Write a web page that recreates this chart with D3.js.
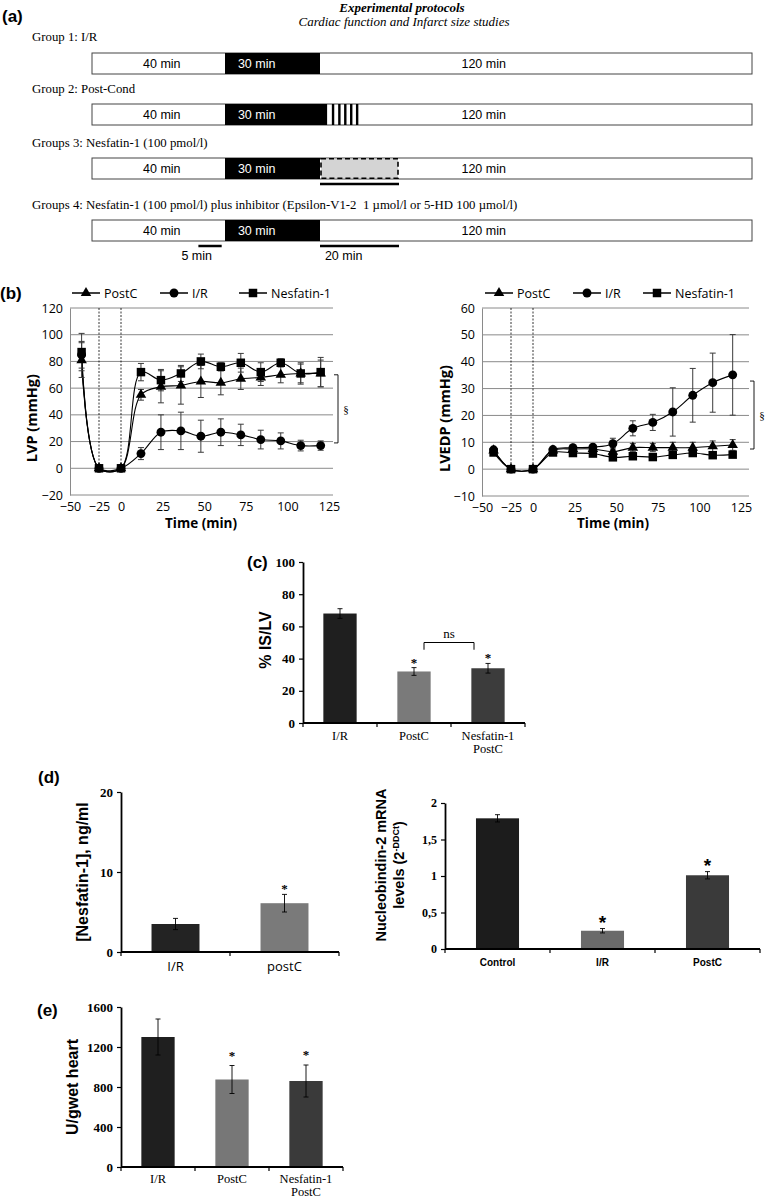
<!DOCTYPE html>
<html><head><meta charset="utf-8">
<script src="https://cdn.jsdelivr.net/npm/d3@7"></script>
<style>body{margin:0;background:#fff}svg{display:block}text{white-space:pre}</style>
</head><body>
<svg id="fig" width="768" height="1197"></svg>
<script>
// ================= DATA =================
// (a) protocol
const protocolGroups = ["Group 1: I/R", "Group 2: Post-Cond", "Groups 3: Nesfatin-1 (100 pmol/l)",
  "Groups 4: Nesfatin-1 (100 pmol/l) plus inhibitor (Epsilon-V1-2  1 µmol/l or 5-HD 100 µmol/l)"];
const phaseBreaks = [0, 40, 70, 90, 190];           // minutes
const phaseLabels = ["40 min", "30 min", "120 min"];
const phaseLabelTimes = [21, 50, 114];
const postCondStripes = [73.0, 74.6, 76.1, 77.6, 79.1];
// (b) haemodynamics
const timePoints = [-40, -25, 0, 12, 24, 36, 48, 60, 72, 84, 96, 108, 120];
const timeTicks = [-50, -25, 0, 25, 50, 75, 100, 125];
const lvpTicks = [-20, 0, 20, 40, 60, 80, 100, 120];
const lvpPostC = [81, 0, 0, 55, 61, 62, 65, 64, 67, 68, 70, 71, 71];
const lvpPostCErr = [13, 0, 0, 4, 12, 14, 12, 9, 8, 6, 6, 7, 10];
const lvpIR = [85, 0, 0, 11, 27, 28, 24, 27, 25, 21.5, 20.5, 17, 17];
const lvpIRErr = [10, 0, 0, 4.5, 13, 14, 12, 10, 8, 7, 6, 4, 3.5];
const lvpNesf = [87, 0, 0, 72, 66, 71, 80, 76, 79, 72, 79, 71, 72];
const lvpNesfErr = [14, 0, 0, 6.5, 8, 6, 5.5, 3, 7, 7, 3, 8, 11];
const lvedpTicks = [-10, 0, 10, 20, 30, 40, 50, 60];
const lvedpPostC = [7, 0, 0, 7, 7.5, 7.5, 6.5, 8, 8, 8, 8, 8.5, 9];
const lvedpPostCErr = [0.6, 0, 0, 0.6, 0.8, 1, 1.5, 1.5, 1.5, 2, 2, 2, 2];
const lvedpIR = [7.2, 0, 0, 7.3, 8, 8.2, 9.5, 15.2, 17.4, 21.3, 27.5, 32.2, 35.1];
const lvedpIRErr = [0.6, 0, 0, 0.6, 0.8, 1, 2, 2.8, 3, 9, 10, 11, 15];
const lvedpNesf = [6.2, 0, 0, 6.2, 6, 5.8, 4.4, 4.8, 4.5, 5.3, 6, 5.2, 5.4];
const lvedpNesfErr = [0.6, 0, 0, 0.5, 0.6, 0.8, 0.8, 0.8, 0.8, 0.8, 0.8, 0.8, 0.8];
const seriesNames = ["PostC", "I/R", "Nesfatin-1"];
// (c) infarct size
const isCats = [["I/R"], ["PostC"], ["Nesfatin-1", "PostC"]];
const isVals = [68, 32, 34];
const isErr = [3, 2.4, 3];
const isTicks = [0, 20, 40, 60, 80, 100];
// (d) nesfatin-1 levels
const nesCats = [["I/R"], ["postC"]];
const nesVals = [3.5, 6.1];
const nesErr = [0.7, 1.1];
const nesTicks = [0, 10, 20];
// (d) nucleobindin-2 mRNA
const nucCats = [["Control"], ["I/R"], ["PostC"]];
const nucVals = [1.79, 0.25, 1.01];
const nucErr = [0.05, 0.03, 0.05];
const nucTicks = [0, 0.5, 1, 1.5, 2];
// (e) LDH
const ldhCats = [["I/R"], ["PostC"], ["Nesfatin-1", "PostC"]];
const ldhVals = [1300, 875, 860];
const ldhErr = [180, 140, 160];
const ldhTicks = [0, 400, 800, 1200, 1600];

// ================= DRAW =================
const svg = d3.select("#fig");
const SERIF = "'Liberation Serif','Times New Roman',serif";
const SANS = "'Liberation Sans',Arial,sans-serif";
const CAL = "'Open Sans','Noto Sans',sans-serif";

function txt(x, y, s, o = {}) {
  const t = svg.append("text").attr("x", x).attr("y", y).text(s)
    .attr("font-family", o.ff || SANS).attr("font-size", o.fs || 12)
    .attr("font-weight", o.fw || "normal").attr("font-style", o.st || "normal")
    .attr("text-anchor", o.anchor || "start").attr("fill", o.fill || "#000");
  if (o.rot) t.attr("transform", `rotate(-90,${x},${y})`);
  return t;
}

// ---------- (a) ----------
txt(402, 12, "Experimental protocols", {ff: SERIF, fs: 13, fw: "bold", st: "italic", anchor: "middle"});
txt(404, 26, "Cardiac function and Infarct size studies", {ff: SERIF, fs: 13, st: "italic", anchor: "middle"});
txt(2, 22, "(a)", {fs: 17, fw: "bold"});

const px = d3.scaleLinear().domain(phaseBreaks).range([92, 225, 320, 399, 752]);
const barTops = [53, 104, 158, 220], labelBase = [41, 93, 147, 209], BH = 21;
protocolGroups.forEach((g, i) => {
  txt(32, labelBase[i], g, {ff: SERIF, fs: 12.8});
  const y0 = barTops[i];
  svg.append("rect").attr("x", px(0)).attr("y", y0).attr("width", px(190) - px(0)).attr("height", BH)
    .attr("fill", "#fff").attr("stroke", "#444").attr("stroke-width", 1);
  const blackEnd = i === 1 ? 71.8 : 70;
  svg.append("rect").attr("x", px(40)).attr("y", y0).attr("width", px(blackEnd) - px(40)).attr("height", BH).attr("fill", "#000");
  if (i === 1) {
    svg.selectAll(null).data(postCondStripes).join("rect")
      .attr("x", d => px(d)).attr("y", y0).attr("width", 2.4).attr("height", BH).attr("fill", "#000");
  }
  if (i === 2) {
    svg.append("rect").attr("x", px(70) + 1).attr("y", y0 + 0.8).attr("width", px(90) - px(70) - 2).attr("height", BH - 1.6)
      .attr("fill", "#d4d4d4").attr("stroke", "#000").attr("stroke-width", 1.6).attr("stroke-dasharray", "5,3");
    svg.append("line").attr("x1", px(70)).attr("x2", px(90)).attr("y1", y0 + BH + 5).attr("y2", y0 + BH + 5)
      .attr("stroke", "#000").attr("stroke-width", 2.5);
  }
  if (i === 3) {
    [[32, 39], [70, 90]].forEach(s => svg.append("line").attr("x1", px(s[0])).attr("x2", px(s[1]))
      .attr("y1", y0 + BH + 5).attr("y2", y0 + BH + 5).attr("stroke", "#000").attr("stroke-width", 2.5));
    txt(px(31.5), y0 + BH + 19, "5 min", {fs: 12.5, anchor: "middle"});
    txt(px(76), y0 + BH + 19, "20 min", {fs: 12.5, anchor: "middle"});
  }
  phaseLabels.forEach((l, k) => txt(px(phaseLabelTimes[k]), y0 + BH / 2 + 4.5, l,
    {fs: 12.5, anchor: "middle", fill: k === 1 ? "#fff" : "#000"}));
});

// ---------- (b) ----------
txt(0, 299, "(b)", {fs: 17, fw: "bold"});
function lineChart(c) {
  const g = svg.append("g");
  const x = d3.scaleLinear().domain([-50, -25, 0, 125]).range([c.x0, c.x0 + 29, c.x0 + 51, c.x0 + 259]);
  const y = d3.scaleLinear().domain([c.ticks[0], c.ticks[c.ticks.length - 1]]).range([c.yb, c.yt]);
  g.selectAll(".grid").data(c.ticks).join("line")
    .attr("x1", c.x0).attr("x2", c.x0 + c.w).attr("y1", d => y(d)).attr("y2", d => y(d))
    .attr("stroke", "#8a8a8a").attr("stroke-width", 1);
  const ya = g.append("g").attr("transform", `translate(${c.x0},0)`)
    .call(d3.axisLeft(y).tickValues(c.ticks).tickSize(0).tickPadding(7).tickSizeOuter(0));
  ya.select(".domain").attr("stroke", "#8a8a8a");
  ya.selectAll("text").attr("font-family", CAL).attr("font-size", 12.5).attr("fill", "#000");
  const xa = g.append("g").attr("transform", `translate(0,${c.yb})`)
    .call(d3.axisBottom(x).tickValues(timeTicks).tickSize(0).tickPadding(7));
  xa.select(".domain").remove();
  xa.selectAll("text").attr("font-family", CAL).attr("font-size", 12.5).attr("fill", "#000");
  g.selectAll(".dash").data([-25, 0]).join("line")
    .attr("x1", d => x(d)).attr("x2", d => x(d)).attr("y1", c.yt).attr("y2", y(0))
    .attr("stroke", "#000").attr("stroke-width", 0.8).attr("stroke-dasharray", "2,1.5");
  const syms = [d3.symbolTriangle, d3.symbolCircle, d3.symbolSquare];
  const sizes = [48, 62, 72];
  const line = d3.line().x((d, i) => x(timePoints[i])).y(d => y(d)).curve(d3.curveCatmullRom.alpha(0.5));
  c.series.forEach(s => {
    g.append("path").attr("d", line(s.v)).attr("fill", "none").attr("stroke", "#000").attr("stroke-width", 1.1);
  });
  c.series.forEach(s => {
    const eg = g.append("g").attr("stroke", "#3a3a3a").attr("stroke-width", 1);
    s.v.forEach((v, i) => {
      const e = s.e[i]; if (!e) return;
      const xx = x(timePoints[i]);
      eg.append("line").attr("x1", xx).attr("x2", xx).attr("y1", y(v - e)).attr("y2", y(v + e));
      [v - e, v + e].forEach(w => eg.append("line").attr("x1", xx - 3).attr("x2", xx + 3).attr("y1", y(w)).attr("y2", y(w)));
    });
  });
  c.series.forEach((s, si) => {
    g.selectAll(null).data(s.v).join("path")
      .attr("d", d3.symbol().type(syms[si]).size(sizes[si]))
      .attr("transform", (d, i) => `translate(${x(timePoints[i])},${y(d)})`).attr("fill", "#000");
  });
  seriesNames.forEach((n, si) => {
    const lx = c.legend[si], ly = 293;
    g.append("line").attr("x1", lx).attr("x2", lx + 28).attr("y1", ly).attr("y2", ly).attr("stroke", "#000").attr("stroke-width", 1.5);
    g.append("path").attr("d", d3.symbol().type(syms[si]).size(sizes[si])()).attr("transform", `translate(${lx + 14},${ly})`);
    txt(lx + 32, ly + 4.5, n, {ff: CAL, fs: 12.5});
  });
  const bx = c.x0 + c.w + 5;
  g.append("path").attr("d", `M${bx - 4},${y(c.br[0])}H${bx}V${y(c.br[1])}H${bx - 4}`)
    .attr("fill", "none").attr("stroke", "#000").attr("stroke-width", 0.9);
  txt(bx + 8, (y(c.br[0]) + y(c.br[1])) / 2 + 4, "§", {ff: SERIF, fs: 11, anchor: "middle"});
  txt(c.x0 + 131, 528, "Time (min)", {ff: CAL, fs: 13.5, fw: "bold", anchor: "middle"});
  txt(c.ylx, (c.yt + y(0)) / 2 + 30, c.ylab, {ff: CAL, fs: 14.5, fw: "bold", anchor: "middle", rot: true});
}
lineChart({x0: 70, w: 263, yt: 308, yb: 495, ticks: lvpTicks, legend: [72, 160, 239], br: [70, 19],
  ylab: "LVP (mmHg)", ylx: 37,
  series: [{v: lvpPostC, e: lvpPostCErr}, {v: lvpIR, e: lvpIRErr}, {v: lvpNesf, e: lvpNesfErr}]});
lineChart({x0: 482, w: 267, yt: 308, yb: 496, ticks: lvedpTicks, legend: [485, 573, 643], br: [32.8, 7.5],
  ylab: "LVEDP (mmHg)", ylx: 450,
  series: [{v: lvedpPostC, e: lvedpPostCErr}, {v: lvedpIR, e: lvedpIRErr}, {v: lvedpNesf, e: lvedpNesfErr}]});

// ---------- bar charts ----------
function barChart(c) {
  const g = svg.append("g");
  const x = d3.scaleBand().domain(c.cats.map((d, i) => i)).range([c.x0, c.x1]);
  const y = d3.scaleLinear().domain([c.ticks[0], c.ticks[c.ticks.length - 1]]).range([c.yb, c.yt]);
  const bw = x.bandwidth() * c.bw;
  g.selectAll("rect").data(c.vals).join("rect")
    .attr("x", (d, i) => x(i) + (x.bandwidth() - bw) / 2).attr("width", bw)
    .attr("y", d => y(d)).attr("height", d => y(0) - y(d)).attr("fill", (d, i) => c.colors[i]);
  const eg = g.append("g").attr("stroke", "#000").attr("stroke-width", 0.9);
  c.vals.forEach((v, i) => {
    const xx = x(i) + x.bandwidth() / 2, e = c.err[i];
    eg.append("line").attr("x1", xx).attr("x2", xx).attr("y1", y(v - e)).attr("y2", y(v + e));
    [v - e, v + e].forEach(w => eg.append("line").attr("x1", xx - 2.5).attr("x2", xx + 2.5).attr("y1", y(w)).attr("y2", y(w)));
    if (c.stars[i]) txt(xx, y(v + e) - c.starOff, "*", {ff: c.starFont || SERIF, fs: c.starSize || 13, fw: "bold", anchor: "middle"});
  });
  const ya = g.append("g").attr("transform", `translate(${c.x0},0)`)
    .call(d3.axisLeft(y).tickValues(c.ticks).tickSize(4).tickPadding(4).tickSizeOuter(0).tickFormat(c.fmt || d3.format("d")));
  ya.select(".domain").attr("stroke", "#000").attr("stroke-width", 1.8);
  ya.selectAll("line").attr("stroke", "#000").attr("stroke-width", 1.2);
  ya.selectAll("text").attr("font-family", SERIF).attr("font-weight", "bold").attr("font-size", c.tfs || 13).attr("fill", "#000");
  const bounds = c.cats.map((d, i) => x(i)).concat([c.x1]);
  g.append("line").attr("x1", c.x0).attr("x2", c.x1).attr("y1", y(0)).attr("y2", y(0)).attr("stroke", "#000").attr("stroke-width", 1.8);
  g.selectAll(".bt").data(bounds).join("line").attr("x1", d => d).attr("x2", d => d)
    .attr("y1", y(0)).attr("y2", y(0) + 4).attr("stroke", "#000").attr("stroke-width", 1.2);
  c.cats.forEach((lines, i) => lines.forEach((l, k) =>
    txt(x(i) + x.bandwidth() / 2, y(0) + c.labOff + k * 12.5, l, {ff: c.labFont, fs: c.labSize, fw: c.labW || "normal", anchor: "middle"})));
  return {x, y};
}

// (c)
txt(247, 568, "(c)", {fs: 17, fw: "bold"});
const cc = barChart({x0: 303, x1: 525, yt: 562, yb: 723, ticks: isTicks, cats: isCats, vals: isVals, err: isErr,
  colors: ["#1f1f1f", "#7a7a7a", "#3c3c3c"], bw: 0.45, stars: [false, true, true], starOff: 1,
  labFont: SERIF, labSize: 12.5, labOff: 17});
{
  const y = cc.y, x = cc.x, b = x.bandwidth();
  const xl = x(1) + b / 2 + 10, xr = x(2) + b / 2 - 14;
  svg.append("path").attr("d", `M${xl},${y(45.5)}V${y(50)}H${xr}V${y(45.5)}`).attr("fill", "none").attr("stroke", "#000").attr("stroke-width", 1);
  txt((xl + xr) / 2, y(50) - 5, "ns", {ff: SERIF, fs: 13, anchor: "middle"});
}
txt(271, 640, "% IS/LV", {fs: 16, fw: "bold", anchor: "middle", rot: true});

// (d)
txt(38, 783, "(d)", {fs: 17, fw: "bold"});
barChart({x0: 121, x1: 339, yt: 792, yb: 952, ticks: nesTicks, cats: nesCats, vals: nesVals, err: nesErr,
  colors: ["#232323", "#7a7a7a"], bw: 0.44, stars: [false, true], starOff: 1,
  labFont: CAL, labSize: 13, labOff: 19});
txt(88, 872, "[Nesfatin-1], ng/ml", {fs: 16, fw: "bold", anchor: "middle", rot: true});

barChart({x0: 445, x1: 760, yt: 803, yb: 949, ticks: nucTicks, cats: nucCats, vals: nucVals, err: nucErr,
  colors: ["#1c1c1c", "#6a6a6a", "#3a3a3a"], bw: 0.41, stars: [false, true, true], starOff: 0,
  starFont: SANS, starSize: 19, labFont: SANS, labSize: 10, labW: "bold", labOff: 17, tfs: 12,
  fmt: d => String(d).replace(".", ",")});
{
  txt(386, 865, "Nucleobindin-2 mRNA", {fs: 14.5, fw: "bold", anchor: "middle", rot: true});
  const t2 = svg.append("text").attr("x", 404).attr("y", 865).attr("transform", "rotate(-90,404,865)")
    .attr("font-family", SANS).attr("font-size", 14.5).attr("font-weight", "bold").attr("text-anchor", "middle");
  t2.append("tspan").text("levels (2");
  t2.append("tspan").text("-DDCt").attr("font-size", 9).attr("dy", -5);
  t2.append("tspan").text(")").attr("dy", 5);
}

// (e)
txt(37, 1016, "(e)", {fs: 17, fw: "bold"});
barChart({x0: 121, x1: 343, yt: 1007, yb: 1167, ticks: ldhTicks, cats: ldhCats, vals: ldhVals, err: ldhErr,
  colors: ["#1f1f1f", "#777777", "#3a3a3a"], bw: 0.45, stars: [false, true, true], starOff: 6,
  labFont: SERIF, labSize: 12.5, labOff: 16});
txt(78, 1087, "U/gwet heart", {fs: 16, fw: "bold", anchor: "middle", rot: true});
</script>
</body></html>
